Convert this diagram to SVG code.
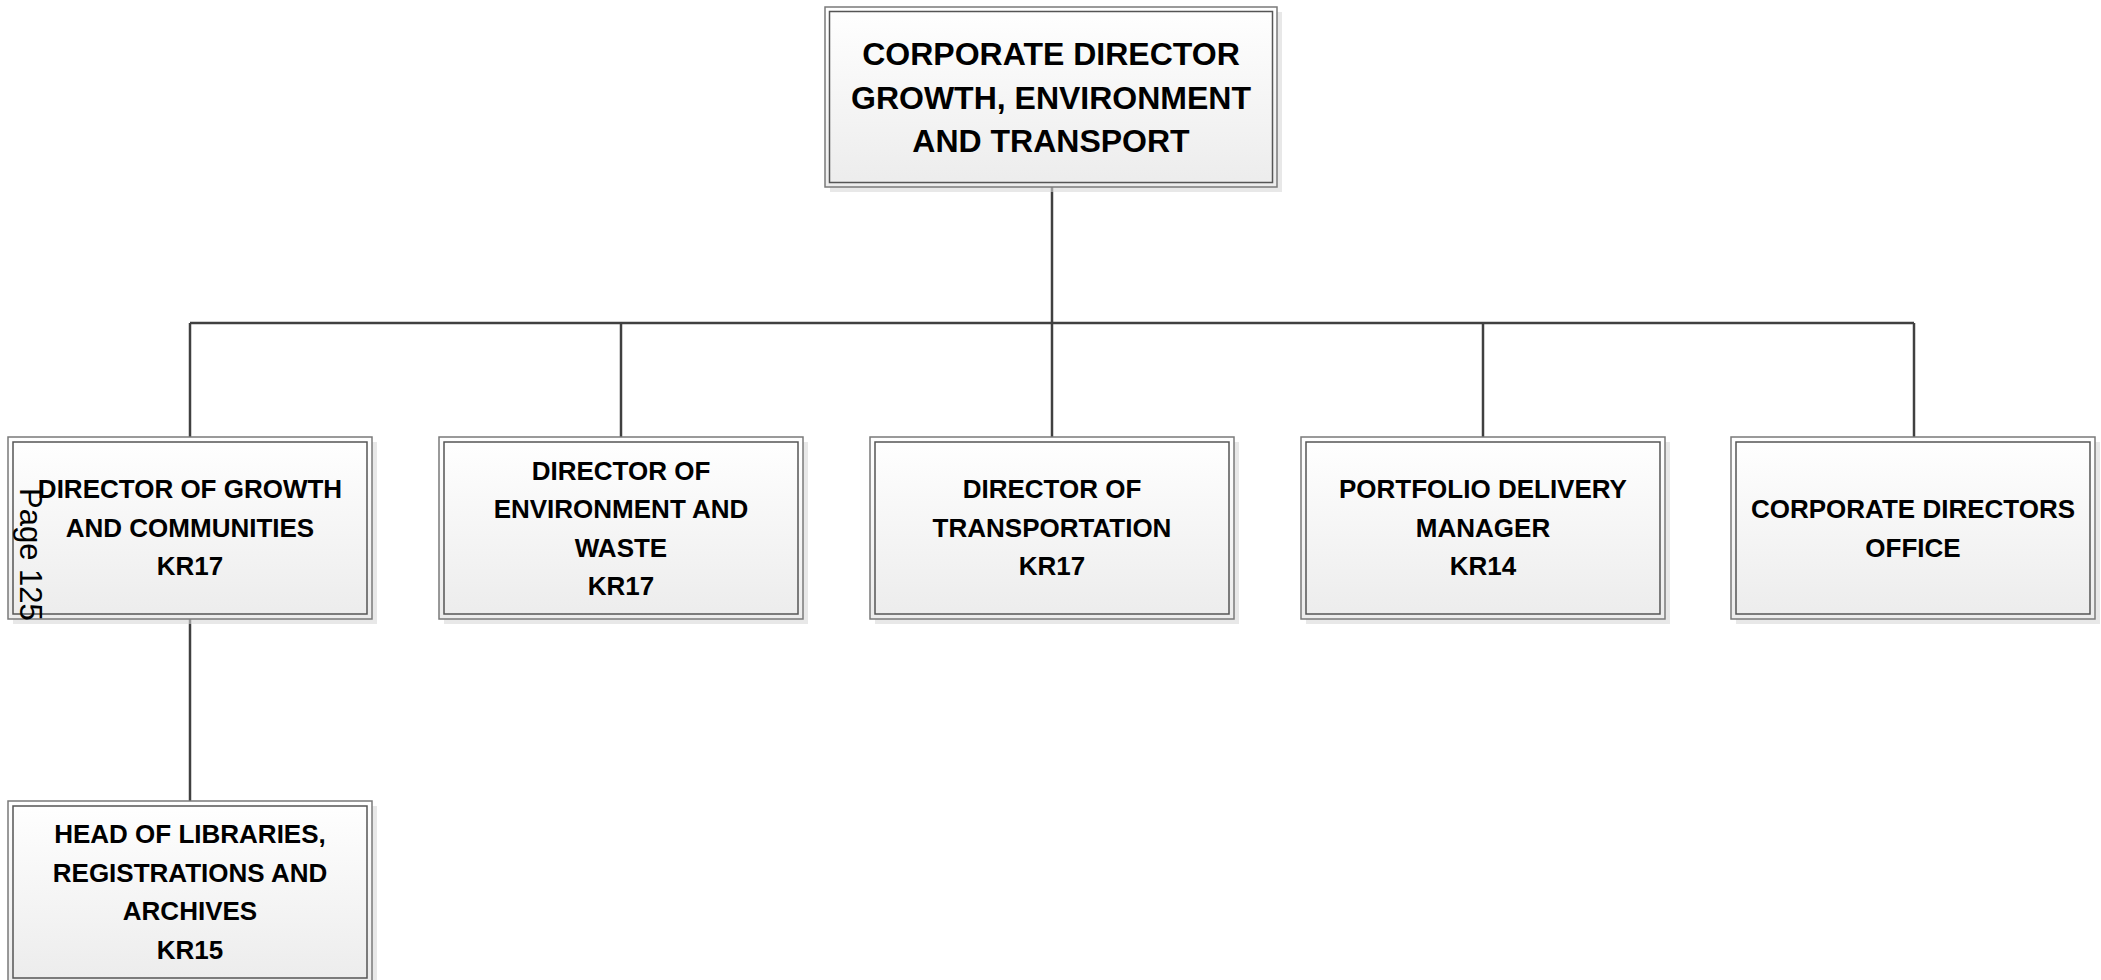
<svg xmlns="http://www.w3.org/2000/svg" width="2101" height="980" viewBox="0 0 2101 980">
<defs>
<linearGradient id="fillG" x1="0" y1="0" x2="0" y2="1">
<stop offset="0" stop-color="#ffffff"/>
<stop offset="1" stop-color="#ececec"/>
</linearGradient>
</defs>
<style>
.shadow{fill:#d9d9d9;opacity:0.6}
.outer{fill:url(#fillG);stroke:#7a7a7a;stroke-width:1.5}
.inner{fill:none;stroke:#555555;stroke-width:1.5}
.conn{stroke:#404040;stroke-width:2.5;fill:none}
.t{font-family:"Liberation Sans",Arial,sans-serif;font-weight:bold;fill:#000;text-anchor:middle}
.tb{font-size:32px}
.tm{font-size:26px}
.page{font-family:"Liberation Sans",Arial,sans-serif;font-size:31px;fill:#000}
</style>
<rect width="2101" height="980" fill="#ffffff"/>
<g id="connectors">
<path class="conn" d="M1052,187 V323"/>
<path class="conn" d="M190,323 H1914"/>
<path class="conn" d="M190,323 V437"/>
<path class="conn" d="M621,323 V437"/>
<path class="conn" d="M1052,323 V437"/>
<path class="conn" d="M1483,323 V437"/>
<path class="conn" d="M1914,323 V437"/>
<path class="conn" d="M190,619 V801"/>
</g>
<g id="node-top">
<rect class="shadow" x="830" y="12" width="452" height="180"/>
<rect class="outer" x="825" y="7" width="452" height="180"/>
<rect class="inner" x="829.5" y="11.5" width="443" height="171"/>
<text class="t tb" x="1051" y="65">CORPORATE DIRECTOR</text>
<text class="t tb" x="1051" y="108.5">GROWTH, ENVIRONMENT</text>
<text class="t tb" x="1051" y="152">AND TRANSPORT</text>
</g>
<g id="node-growth">
<rect class="shadow" x="13" y="442" width="364" height="182"/>
<rect class="outer" x="8" y="437" width="364" height="182"/>
<rect class="inner" x="13" y="442" width="354" height="172"/>
<text class="t tm" x="190" y="498">DIRECTOR OF GROWTH</text>
<text class="t tm" x="190" y="537">AND COMMUNITIES</text>
<text class="t tm" x="190" y="575">KR17</text>
</g>
<g id="node-environment">
<rect class="shadow" x="444" y="442" width="364" height="182"/>
<rect class="outer" x="439" y="437" width="364" height="182"/>
<rect class="inner" x="444" y="442" width="354" height="172"/>
<text class="t tm" x="621" y="480">DIRECTOR OF</text>
<text class="t tm" x="621" y="518">ENVIRONMENT AND</text>
<text class="t tm" x="621" y="557">WASTE</text>
<text class="t tm" x="621" y="595">KR17</text>
</g>
<g id="node-transportation">
<rect class="shadow" x="875" y="442" width="364" height="182"/>
<rect class="outer" x="870" y="437" width="364" height="182"/>
<rect class="inner" x="875" y="442" width="354" height="172"/>
<text class="t tm" x="1052" y="498">DIRECTOR OF</text>
<text class="t tm" x="1052" y="537">TRANSPORTATION</text>
<text class="t tm" x="1052" y="575">KR17</text>
</g>
<g id="node-portfolio">
<rect class="shadow" x="1306" y="442" width="364" height="182"/>
<rect class="outer" x="1301" y="437" width="364" height="182"/>
<rect class="inner" x="1306" y="442" width="354" height="172"/>
<text class="t tm" x="1483" y="498">PORTFOLIO DELIVERY</text>
<text class="t tm" x="1483" y="537">MANAGER</text>
<text class="t tm" x="1483" y="575">KR14</text>
</g>
<g id="node-office">
<rect class="shadow" x="1736" y="442" width="364" height="182"/>
<rect class="outer" x="1731" y="437" width="364" height="182"/>
<rect class="inner" x="1736" y="442" width="354" height="172"/>
<text class="t tm" x="1913" y="518">CORPORATE DIRECTORS</text>
<text class="t tm" x="1913" y="557">OFFICE</text>
</g>
<g id="node-libraries">
<rect class="shadow" x="13" y="806" width="364" height="182"/>
<rect class="outer" x="8" y="801" width="364" height="182"/>
<rect class="inner" x="13" y="806" width="354" height="172"/>
<text class="t tm" x="190" y="843">HEAD OF LIBRARIES,</text>
<text class="t tm" x="190" y="882">REGISTRATIONS AND</text>
<text class="t tm" x="190" y="920">ARCHIVES</text>
<text class="t tm" x="190" y="959">KR15</text>
</g>
<text class="page" transform="translate(20,488) rotate(90)">Page 125</text>
</svg>
